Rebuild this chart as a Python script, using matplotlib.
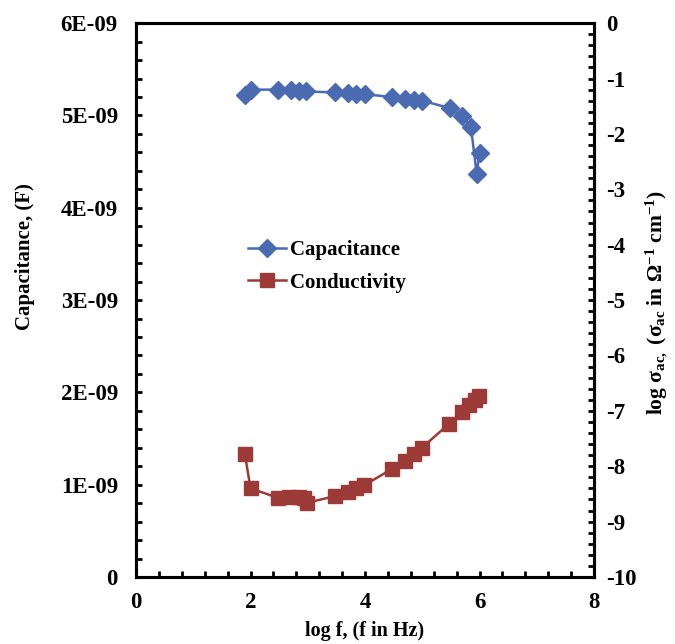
import matplotlib
matplotlib.use("Agg")
import matplotlib.pyplot as plt
from matplotlib.ticker import MultipleLocator, FuncFormatter

plt.rcParams['font.family'] = ['Liberation Serif', 'DejaVu Serif']
plt.rcParams['font.weight'] = 'bold'
plt.rcParams['axes.unicode_minus'] = False
plt.rcParams['mathtext.fontset'] = 'custom'
plt.rcParams['mathtext.rm'] = 'Liberation Serif:bold'
plt.rcParams['mathtext.it'] = 'Liberation Serif:bold'
plt.rcParams['mathtext.bf'] = 'Liberation Serif:bold'

# capacitance vs log f
cap_logf = [1.90, 2.00, 2.48, 2.70, 2.85, 2.97, 3.48, 3.70, 3.85, 4.00,
            4.48, 4.70, 4.85, 5.00, 5.48, 5.70, 5.85, 5.95, 6.00]
cap_vals = [5.22e-9, 5.28e-9, 5.28e-9, 5.28e-9, 5.27e-9, 5.26e-9, 5.25e-9, 5.24e-9, 5.23e-9, 5.23e-9,
            5.20e-9, 5.18e-9, 5.17e-9, 5.16e-9, 5.08e-9, 4.99e-9, 4.88e-9, 4.37e-9, 4.59e-9]

# log ac conductivity vs log f
cond_logf = [1.90, 2.00, 2.48, 2.68, 2.85, 2.94, 2.99, 3.47, 3.70, 3.85, 3.99,
             4.47, 4.70, 4.86, 4.99, 5.46, 5.70, 5.82, 5.92, 5.99]
cond_vals = [-7.77, -8.40, -8.57, -8.55, -8.55, -8.57, -8.66, -8.54, -8.46, -8.40, -8.34,
             -8.05, -7.90, -7.77, -7.67, -7.24, -7.02, -6.90, -6.81, -6.73]

blue = '#4a6ab2'
red = '#9b3a37'

fig = plt.figure(figsize=(6.75, 6.44), dpi=100)
ax = fig.add_axes([0.2015, 0.104, 0.6785, 0.86])
ax2 = ax.twinx()

l1, = ax.plot(cap_logf, cap_vals, color=blue, lw=1.8, marker='D', ms=9.5, label='Capacitance')
l2, = ax2.plot(cond_logf, cond_vals, color=red, lw=1.8, marker='s', ms=10, label='Conductivity')

ax.set_xlim(0, 8)
ax.set_ylim(0, 6e-9)
ax2.set_ylim(-10, 0)

ax.xaxis.set_major_locator(MultipleLocator(2))
ax.xaxis.set_minor_locator(MultipleLocator(0.4))
ax.yaxis.set_major_locator(MultipleLocator(1e-9))
ax.yaxis.set_minor_locator(MultipleLocator(0.2e-9))
ax2.yaxis.set_major_locator(MultipleLocator(1))
ax2.yaxis.set_minor_locator(MultipleLocator(0.2))

def sci(v, pos):
    if abs(v) < 1e-15:
        return '0'
    return '%dE-09' % round(v / 1e-9)

ax.yaxis.set_major_formatter(FuncFormatter(sci))

for a in (ax, ax2):
    for s in a.spines.values():
        s.set_linewidth(2.2)
    a.tick_params(which='both', direction='in', length=4, width=2, labelsize=16.5)

ax.tick_params(axis='x', pad=11)
ax.tick_params(axis='y', pad=13)
ax2.tick_params(axis='y', pad=9)

ax.set_xlabel('log f, (f in Hz)', fontsize=14.5, fontweight='bold')
ax.xaxis.set_label_coords(0.5, -0.08)
ax.set_ylabel('Capacitance, (F)', fontsize=15, fontweight='bold')
ax.yaxis.set_label_coords(-0.22, 0.579)
ax2.set_ylabel(r'log $\sigma_{ac,}$ ($\sigma_{ac}$ in $\Omega^{-1}$ cm$^{-1}$)',
               fontsize=15.5, fontweight='bold')
ax2.yaxis.set_label_coords(1.108, 0.495)

fig.legend(handles=[l1, l2], loc='upper left', bbox_to_anchor=(0.34, 0.656),
           frameon=False, handlelength=1.8, handletextpad=0.2,
           labelspacing=0.6, prop={'weight': 'bold', 'size': 15})

fig.savefig('out.png', dpi=100)
